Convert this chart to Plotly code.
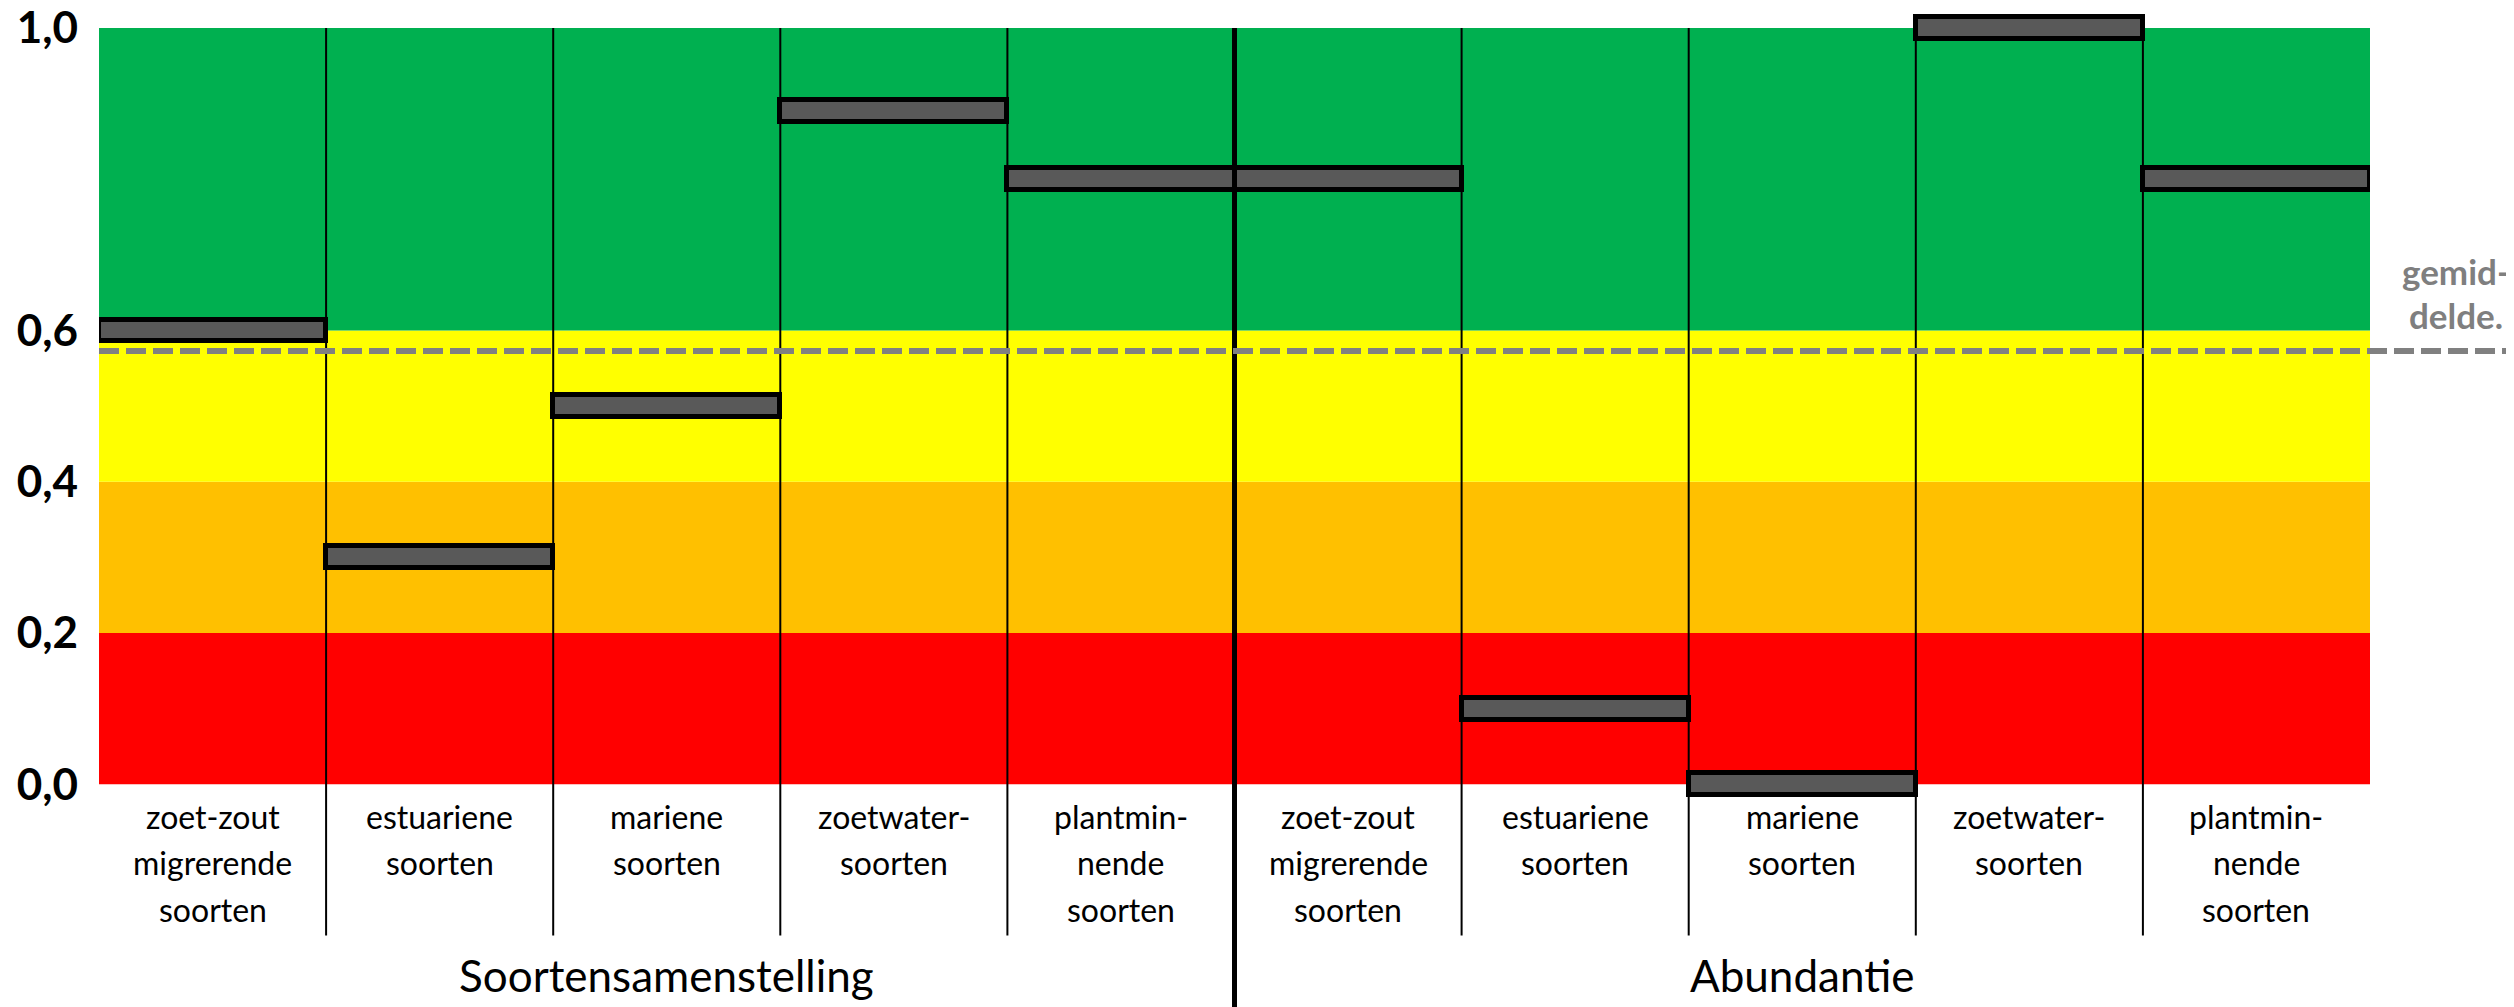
import plotly.graph_objects as go

# ---- data ----
groups = ["Soortensamenstelling", "Abundantie"]
categories = [
    "zoet-zout<br>migrerende<br>soorten",
    "estuariene<br>soorten",
    "mariene<br>soorten",
    "zoetwater-<br>soorten",
    "plantmin-<br>nende<br>soorten",
]
scores_soortensamenstelling = [0.60, 0.30, 0.50, 0.89, 0.80]
scores_abundantie = [0.80, 0.10, 0.00, 1.00, 0.80]
average = 0.573
average_label = ["gemid-", "delde."]
band_edges = [0.0, 0.2, 0.4, 0.6, 1.0]
band_colors = ["#FF0000", "#FFC000", "#FFFF00", "#00B050"]
ytick_vals = [0.0, 0.2, 0.4, 0.6, 1.0]
ytick_text = ["0,0", "0,2", "0,4", "0,6", "1,0"]

# ---- derived ----
all_scores = scores_soortensamenstelling + scores_abundantie
n = len(all_scores)
ncat = len(categories)
xpos = [i + 0.5 for i in range(n)]
cat_labels = categories + categories
BAR_H = 0.029

Y_LO, Y_HI = -0.03, 1.025


def paper(v):
    """convert a value on the score scale to a paper fraction"""
    return (v - Y_LO) / (Y_HI - Y_LO)


FONT = "Lato"

fig = go.Figure()
fig.add_trace(go.Bar(
    x=xpos,
    y=[BAR_H] * n,
    base=[v - BAR_H / 2 for v in all_scores],
    width=1.0,
    marker=dict(color="#595959", line=dict(color="#000000", width=5)),
    showlegend=False,
    hoverinfo="skip",
))

shapes = []
# background bands
for (y0, y1), col in zip(zip(band_edges[:-1], band_edges[1:]), band_colors):
    shapes.append(dict(type="rect", xref="paper", yref="y", x0=0, x1=1, y0=y0, y1=y1,
                       fillcolor=col, line=dict(width=0), layer="below"))
# dividers
for k in range(1, n):
    if k == ncat:
        shapes.append(dict(type="line", xref="x", yref="paper", x0=k, x1=k,
                           y0=paper(-0.31), y1=paper(1.0),
                           line=dict(color="#000000", width=5), layer="below"))
    else:
        shapes.append(dict(type="line", xref="x", yref="paper", x0=k, x1=k,
                           y0=paper(-0.2), y1=paper(1.0),
                           line=dict(color="#000000", width=2), layer="below"))
# average line
shapes.append(dict(type="line", xref="paper", yref="y", x0=0, x1=1.07, y0=average, y1=average,
                   line=dict(color="#808080", width=6, dash="20px,7px"), layer="above"))

annotations = []
line_offsets = [-0.042, -0.104, -0.165]
for x, lab in zip(xpos, cat_labels):
    for li, part in enumerate(lab.split("<br>")):
        annotations.append(dict(x=x, y=paper(line_offsets[li]), xref="x", yref="paper", text=part,
                                showarrow=False, yanchor="middle", xanchor="center",
                                font=dict(family=FONT, size=32, color="#000000")))
for gi, g in enumerate(groups):
    annotations.append(dict(x=gi * ncat + ncat / 2, y=paper(-0.252), xref="x", yref="paper",
                            text=g, showarrow=False, yanchor="middle", xanchor="center",
                            font=dict(family=FONT, size=44, color="#000000")))
for li, part in enumerate(average_label):
    annotations.append(dict(x=1.038, y=paper([0.678, 0.621][li]), xref="paper", yref="paper", text=part,
                            showarrow=False, xanchor="center", yanchor="middle",
                            font=dict(family=FONT, size=35, color="#7F7F7F", weight="bold")))

fig.update_layout(
    width=2506, height=999,
    margin=dict(l=91, r=144, t=1, b=200, autoexpand=False),
    paper_bgcolor="white", plot_bgcolor="white",
    shapes=shapes, annotations=annotations,
    xaxis=dict(range=[0, n], showticklabels=False, showgrid=False, zeroline=False, ticks="",
               automargin=False, fixedrange=True),
    yaxis=dict(range=[Y_LO, Y_HI], tickvals=ytick_vals, ticktext=ytick_text, showgrid=False,
               zeroline=False, ticks="", ticklabelstandoff=20, automargin=False,
               ticklabeloverflow="allow",
               tickfont=dict(family=FONT, size=44, color="#000000", weight="bold")),
    bargap=0,
)

fig.write_html("out.html")
